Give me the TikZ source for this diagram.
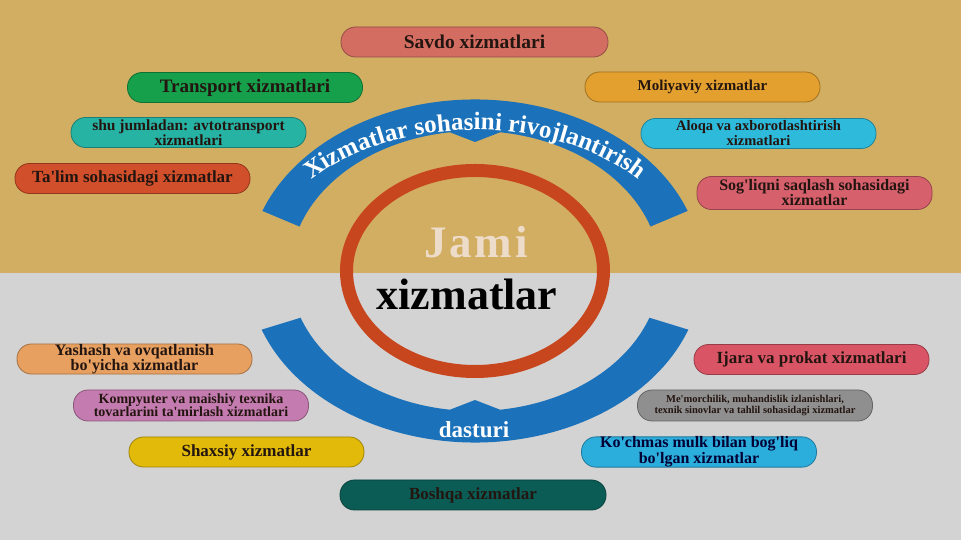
\documentclass[tikz,border=0pt]{standalone}
\usepackage{fontspec}
\setmainfont{Liberation Serif}[Ligatures=TeXOff]
\usetikzlibrary{positioning,decorations.text}

\definecolor{topbg}{HTML}{D2AE62}
\definecolor{botbg}{HTML}{D3D3D3}
\definecolor{arcblue}{HTML}{1C72BA}
\definecolor{ringred}{HTML}{C8461E}
\definecolor{jamicol}{HTML}{EEDCCB}
\definecolor{pilltext}{HTML}{231510}
\definecolor{savdocol}{HTML}{D36D62}
\definecolor{transportcol}{HTML}{16A04C}
\definecolor{avtocol}{HTML}{27B3A4}
\definecolor{talimcol}{HTML}{D14F2A}
\definecolor{moliyacol}{HTML}{E3A02E}
\definecolor{aloqacol}{HTML}{2EBADB}
\definecolor{sogliqcol}{HTML}{D6606C}
\definecolor{yashashcol}{HTML}{E8A060}
\definecolor{kompyutercol}{HTML}{C47BAF}
\definecolor{shaxsiycol}{HTML}{E2BA0A}
\definecolor{boshqacol}{HTML}{0B5C55}
\definecolor{ijaracol}{HTML}{D95566}
\definecolor{memorcol}{HTML}{8F8F8F}
\definecolor{kochmascol}{HTML}{2CAEDD}

\begin{document}
\begin{tikzpicture}[x=1pt,y=1pt,on grid,
    pill/.style={fill=#1, draw=#1!70!black, line width=.8pt,
        rounded corners=14.5pt, minimum width=235pt, minimum height=30pt,
        inner sep=0pt, align=center, text=pilltext},
    sz/.style={font=\bfseries\fontsize{#1}{15}\selectfont}]
    % background halves
    \fill[topbg] (0,267) rectangle (961,540);
    \fill[botbg] (0,0) rectangle (961,267);
    \useasboundingbox (0,0) rectangle (961,540);

    % ring and blue arcs
    \draw[ringred, line width=13pt] (475,269) ellipse [x radius=128.5pt, y radius=100.5pt];
    \begin{scope}[shift={(475,269)}]
        \fill[arcblue] (20.5:227pt and 171.5pt)
            arc[start angle=20.5, end angle=159.5, x radius=227pt, y radius=171.5pt]
            -- (161.5:185pt and 140pt)
            arc[start angle=161.5, end angle=97.8, x radius=185pt, y radius=140pt]
            -- (0,129) -- (82.2:185pt and 140pt)
            arc[start angle=82.2, end angle=18.5, x radius=185pt, y radius=140pt]
            -- cycle;
        \fill[arcblue] (200:227pt and 171.5pt)
            arc[start angle=200, end angle=340, x radius=227pt, y radius=171.5pt]
            -- (340.5:185pt and 140pt)
            arc[start angle=340.5, end angle=277.8, x radius=185pt, y radius=140pt]
            -- (0,-129) -- (262.2:185pt and 140pt)
            arc[start angle=262.2, end angle=199.5, x radius=185pt, y radius=140pt]
            -- cycle;
        \path[decorate, decoration={text along path, text align=center, text color=white,
                text={|\bfseries\fontsize{25}{25}\selectfont|Xizmatlar sohasini rivojlantirish}}]
            (152:214pt and 141pt) arc[start angle=152, end angle=28, x radius=214pt, y radius=141pt];
    \end{scope}
    \node[text=white, sz=23] (dasturi) at (474,110) {dasturi};
    \node[text=jamicol, anchor=base, font=\bfseries\fontsize{45}{45}\selectfont\addfontfeatures{LetterSpace=6}] (jami) at (476,282) {Jami};
    \node[text=black, anchor=base, font=\bfseries\fontsize{44}{44}\selectfont] (total) at (467,230) {xizmatlar};

    % upper services
    \node[pill=savdocol, minimum width=267pt, sz=19.5] (savdo) at (474.5,498) {Savdo xizmatlari};
    \node[pill=transportcol, sz=19] (transport) at (245,452.5) {Transport xizmatlari};
    \node[pill=avtocol, sz=15.5] (avto) [below left=45pt and 56.5pt of transport] {shu jumladan: avtotransport\\xizmatlari};
    \node[pill=talimcol, sz=17] (talim) [below left=46pt and 56pt of avto] {Ta'lim sohasidagi xizmatlar};
    \node[pill=moliyacol, sz=15] (moliya) at (702.5,453) {Moliyaviy xizmatlar};
    \node[pill=aloqacol, sz=14.5] (aloqa) [below right=46.5pt and 56pt of moliya] {Aloqa va axborotlashtirish\\xizmatlari};
    \node[pill=sogliqcol, minimum height=33pt, sz=16] (sogliq) [below right=59.5pt and 56pt of aloqa] {Sog'liqni saqlash sohasidagi\\xizmatlar};

    % lower services
    \node[pill=yashashcol, font=\bfseries\fontsize{16}{14}\selectfont] (yashash) at (134.5,181) {Yashash va ovqatlanish\\bo'yicha xizmatlar};
    \node[pill=kompyutercol, minimum height=31pt, font=\bfseries\fontsize{14}{13}\selectfont] (kompyuter) [below right=46.5pt and 56.5pt of yashash] {Kompyuter va maishiy texnika\\tovarlarini ta'mirlash xizmatlari};
    \node[pill=shaxsiycol, sz=17] (shaxsiy) [below right=46.5pt and 55.5pt of kompyuter] {Shaxsiy xizmatlar};
    \node[pill=boshqacol, minimum width=266pt, sz=17] (boshqa) at (473,45) {Boshqa xizmatlar};
    \node[pill=ijaracol, sz=17] (ijara) at (811.5,180.5) {Ijara va prokat xizmatlari};
    \node[pill=memorcol, minimum height=31pt, font=\bfseries\fontsize{10.5}{11}\selectfont] (memor) [below left=46pt and 56.5pt of ijara] {Me'morchilik, muhandislik izlanishlari,\\texnik sinovlar va tahlil sohasidagi xizmatlar};
    \node[pill=kochmascol, text=black!80!blue, font=\bfseries\fontsize{16}{14}\selectfont] (kochmas) [below left=46.5pt and 56pt of memor] {Ko'chmas mulk bilan bog'liq\\bo'lgan xizmatlar};
\end{tikzpicture}
\end{document}
